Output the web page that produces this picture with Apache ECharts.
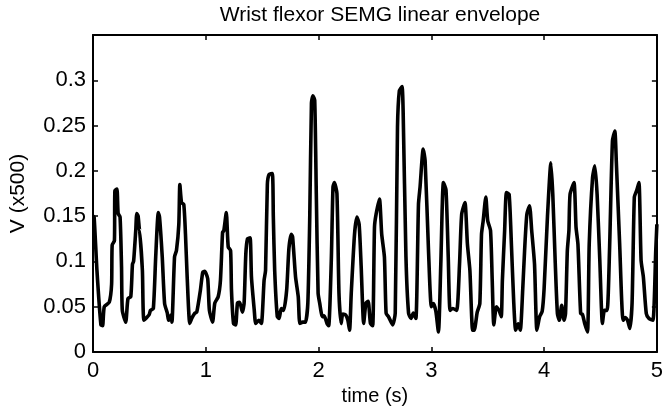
<!DOCTYPE html>
<html>
<head>
<meta charset="utf-8">
<script src="https://cdn.jsdelivr.net/npm/echarts@6/dist/echarts.min.js"></script>
<style>html,body{margin:0;padding:0;background:#fff}#c{width:666px;height:414px}</style>
</head>
<body>
<div id="c"></div>
<script>
const time = [0.00,0.01,0.035,0.07,0.085,0.10,0.144,0.165,0.17,0.19,0.194,0.212,0.223,0.24,0.253,0.26,0.29,0.31,0.335,0.35,0.36,0.379,0.388,0.40,0.414,0.42,0.438,0.452,0.497,0.51,0.535,0.556,0.579,0.59,0.614,0.635,0.659,0.67,0.694,0.70,0.723,0.74,0.761,0.770,0.785,0.805,0.82,0.835,0.858,0.875,0.90,0.92,0.952,0.973,0.99,1.017,1.032,1.06,1.08,1.11,1.13,1.149,1.16,1.182,1.199,1.22,1.228,1.246,1.265,1.281,1.30,1.325,1.34,1.355,1.37,1.393,1.405,1.43,1.443,1.47,1.493,1.517,1.53,1.546,1.561,1.59,1.599,1.611,1.634,1.65,1.669,1.69,1.717,1.737,1.758,1.77,1.796,1.82,1.834,1.86,1.884,1.905,1.922,1.937,1.95,1.966,1.98,1.996,2.01,2.034,2.05,2.075,2.09,2.113,2.128,2.14,2.163,2.181,2.20,2.215,2.24,2.26,2.275,2.29,2.319,2.34,2.36,2.378,2.40,2.42,2.44,2.46,2.48,2.496,2.51,2.54,2.56,2.584,2.599,2.62,2.657,2.68,2.70,2.716,2.74,2.75,2.775,2.798,2.82,2.84,2.863,2.886,2.90,2.928,2.945,2.975,3.00,3.018,3.04,3.063,3.084,3.107,3.13,3.15,3.166,3.19,3.225,3.25,3.269,3.298,3.32,3.342,3.366,3.38,3.407,3.43,3.445,3.46,3.483,3.50,3.525,3.54,3.554,3.577,3.60,3.62,3.63,3.65,3.666,3.69,3.71,3.73,3.748,3.77,3.789,3.81,3.827,3.847,3.871,3.89,3.915,3.936,3.96,3.983,4.00,4.03,4.06,4.077,4.098,4.118,4.135,4.156,4.177,4.19,4.206,4.22,4.23,4.265,4.283,4.30,4.324,4.34,4.36,4.385,4.40,4.43,4.45,4.47,4.494,4.517,4.535,4.559,4.58,4.606,4.627,4.64,4.67,4.70,4.72,4.74,4.76,4.78,4.80,4.82,4.841,4.86,4.88,4.906,4.93,4.965,4.99,5.00];
const envelope = [0.150,0.149,0.090,0.030,0.029,0.050,0.055,0.075,0.118,0.123,0.178,0.180,0.153,0.149,0.094,0.046,0.033,0.059,0.061,0.097,0.100,0.134,0.153,0.150,0.134,0.134,0.090,0.035,0.041,0.046,0.048,0.105,0.154,0.149,0.105,0.0535,0.043,0.035,0.041,0.033,0.105,0.112,0.141,0.185,0.165,0.163,0.130,0.083,0.0315,0.037,0.0425,0.044,0.068,0.088,0.089,0.081,0.046,0.033,0.054,0.061,0.079,0.132,0.134,0.154,0.116,0.112,0.068,0.0315,0.030,0.054,0.055,0.044,0.054,0.108,0.125,0.126,0.083,0.046,0.0315,0.035,0.0315,0.079,0.090,0.185,0.196,0.197,0.149,0.090,0.039,0.037,0.048,0.046,0.068,0.114,0.130,0.127,0.083,0.061,0.0315,0.033,0.033,0.054,0.149,0.275,0.283,0.278,0.175,0.065,0.054,0.039,0.040,0.0315,0.029,0.101,0.182,0.187,0.175,0.065,0.0315,0.042,0.041,0.035,0.024,0.065,0.130,0.149,0.141,0.094,0.0315,0.054,0.056,0.0315,0.029,0.138,0.152,0.169,0.130,0.105,0.043,0.039,0.030,0.043,0.248,0.288,0.293,0.266,0.105,0.043,0.037,0.043,0.037,0.163,0.182,0.224,0.211,0.112,0.050,0.0535,0.045,0.022,0.097,0.187,0.179,0.105,0.046,0.048,0.046,0.097,0.152,0.165,0.119,0.090,0.024,0.024,0.044,0.0535,0.130,0.145,0.171,0.145,0.134,0.079,0.030,0.050,0.046,0.039,0.079,0.134,0.176,0.174,0.119,0.057,0.024,0.031,0.024,0.068,0.112,0.152,0.1615,0.134,0.097,0.024,0.039,0.045,0.070,0.150,0.209,0.174,0.101,0.0425,0.035,0.0515,0.035,0.0425,0.112,0.134,0.174,0.187,0.138,0.119,0.0425,0.0415,0.0315,0.022,0.119,0.193,0.2055,0.174,0.101,0.0315,0.046,0.046,0.112,0.233,0.244,0.211,0.119,0.035,0.038,0.035,0.026,0.054,0.171,0.178,0.187,0.101,0.083,0.0425,0.037,0.035,0.112,0.141];
const xTicks = [0,1,2,3,4,5];
const yTicks = [0,0.05,0.1,0.15,0.2,0.25,0.3];

const FONT = 'Liberation Sans, Arial, Helvetica, sans-serif';
const chart = echarts.init(document.getElementById('c'), null, {renderer: 'canvas'});
const data = time.map((t, i) => [t, envelope[i]]);
const lineSty = {show: true, onZero: false, lineStyle: {color: '#000', width: 2}};
const tickSty = {show: true, inside: true, length: 5, lineStyle: {color: '#000', width: 1.5}};
const yFmt = v => yTicks.some(t => Math.abs(t - v) < 1e-9) ? String(+v.toFixed(2)) : '';
const xFmt = v => xTicks.some(t => Math.abs(t - v) < 1e-9) ? String(v) : '';
chart.setOption({
  animation: false,
  backgroundColor: '#fff',
  title: {
    text: 'Wrist flexor SEMG linear envelope',
    left: 375, top: 0, textAlign: 'center',
    textStyle: {fontFamily: FONT, fontSize: 21, fontWeight: 'normal', color: '#000'}
  },
  grid: {left: 92, right: 7, top: 35, bottom: 62, containLabel: false},
  xAxis: [
    {type: 'value', min: 0, max: 5, interval: 1, position: 'bottom',
     name: 'time (s)', nameLocation: 'middle', nameGap: 32,
     nameTextStyle: {fontFamily: FONT, fontSize: 20, color: '#000'},
     axisLine: lineSty, axisTick: tickSty, splitLine: {show: false},
     axisLabel: {fontFamily: FONT, fontSize: 22, color: '#000', margin: 8, formatter: xFmt}},
    {type: 'value', min: 0, max: 5, interval: 1, position: 'top',
     axisLine: lineSty, axisTick: tickSty, splitLine: {show: false}, axisLabel: {show: false}}
  ],
  yAxis: [
    {type: 'value', min: 0, max: 0.35, interval: 0.05, position: 'left',
     name: 'V (x500)', nameLocation: 'middle', nameGap: 64, nameRotate: 90,
     nameTextStyle: {fontFamily: FONT, fontSize: 21, color: '#000'},
     axisLine: lineSty, axisTick: tickSty, splitLine: {show: false},
     axisLabel: {fontFamily: FONT, fontSize: 22, color: '#000', margin: 7, formatter: yFmt}},
    {type: 'value', min: 0, max: 0.35, interval: 0.05, position: 'right',
     axisLine: lineSty, axisTick: tickSty, splitLine: {show: false}, axisLabel: {show: false}}
  ],
  series: [{
    type: 'line', data: data, xAxisIndex: 0, yAxisIndex: 0,
    showSymbol: false, smooth: 0.2, clip: true,
    lineStyle: {color: '#000', width: 3.6, join: 'round'}
  }]
});
</script>
</body>
</html>
